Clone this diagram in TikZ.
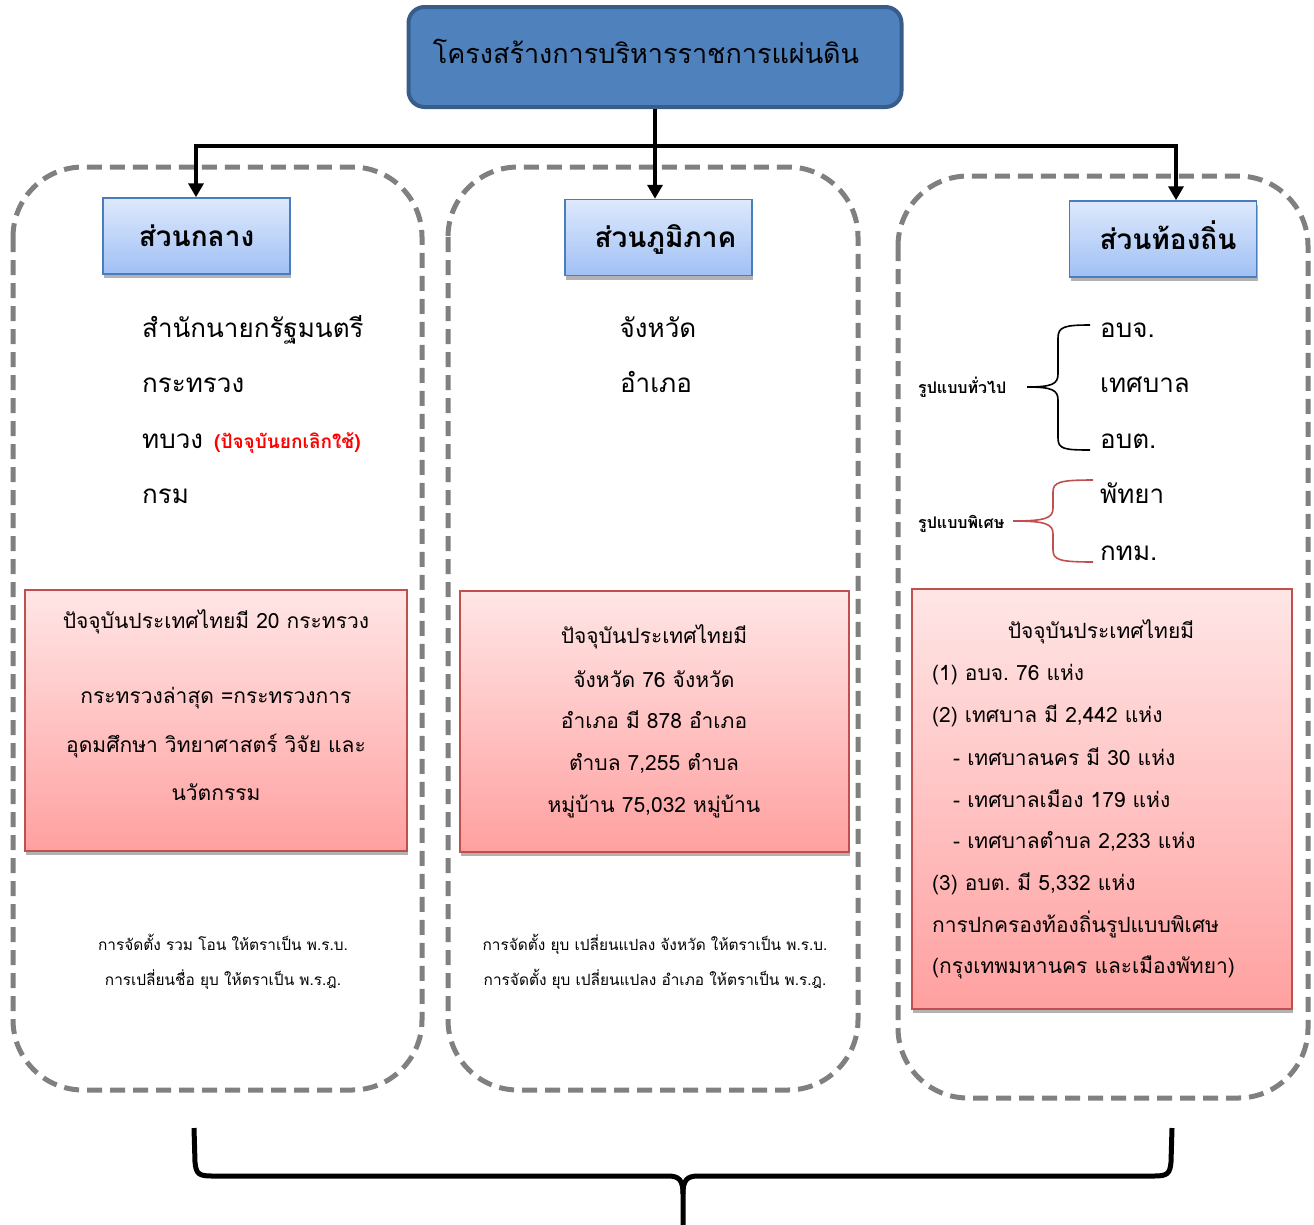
\documentclass[tikz,border=0pt]{standalone}
\usepackage{fontspec}
\setmainfont[Script=Thai]{Loma}
\usetikzlibrary{shadows,arrows.meta}
\definecolor{titleblue}{RGB}{79,129,189}
\definecolor{titleedge}{RGB}{56,93,138}
\definecolor{hdtop}{RGB}{222,233,252}
\definecolor{hdbot}{RGB}{160,192,245}
\definecolor{hdedge}{RGB}{74,126,187}
\definecolor{pktop}{RGB}{255,230,230}
\definecolor{pkbot}{RGB}{255,160,160}
\definecolor{pkedge}{RGB}{192,80,77}
\definecolor{dashgray}{RGB}{128,128,128}
\definecolor{bracered}{RGB}{192,80,77}
\newcommand{\fs}[1]{\fontsize{#1}{#1}\selectfont}
\frenchspacing
\begin{document}
\begin{tikzpicture}[x=1pt,y=-1pt,
  cont/.style={draw=dashgray,line width=5pt,dash pattern=on 15pt off 8pt,rounded corners=70pt},
  conn/.style={line width=4pt},
  tip/.style={-{Triangle[length=14pt,width=15pt]}},
  hdr/.style={draw=hdedge,line width=1.5pt,top color=hdtop,bottom color=hdbot,
    minimum width=187pt,minimum height=76pt,inner sep=0pt,text height=26pt,text depth=6pt,
    drop shadow={shadow xshift=1pt,shadow yshift=-4pt,opacity=0.3,fill=black},
    font=\fs{28}\bfseries},
  pink/.style={draw=pkedge,line width=1.5pt,top color=pktop,bottom color=pkbot,inner sep=0pt,
    drop shadow={shadow xshift=1pt,shadow yshift=-4pt,opacity=0.3,fill=black}},
  lst/.style={anchor=base west,inner sep=0pt,font=\fs{26}},
  lstc/.style={anchor=base,inner sep=0pt,font=\fs{26}},
  pt/.style={anchor=base,inner sep=0pt,font=\fs{21}},
  ptl/.style={anchor=base west,inner sep=0pt,font=\fs{21}},
  small/.style={anchor=base west,inner sep=0pt,font=\fs{16}\bfseries},
  foot/.style={anchor=base,inner sep=0pt,font=\fs{15.4}}]
\useasboundingbox (0,0) rectangle (1314,1224);
% dashed containers
\draw[cont] (13,167) rectangle (422,1090);
\draw[cont] (448,167) rectangle (858,1090);
\draw[cont] (898,176) rectangle (1308,1098);
% title
\node[draw=titleedge,line width=4pt,fill=titleblue,rounded corners=16pt,
  minimum width=493pt,minimum height=100pt,inner sep=0pt] (title) at (655,57) {};
\node[anchor=base,inner sep=0pt,font=\fs{27}] (titletext) at (646,63) {โครงสร้างการบริหารราชการแผ่นดิน};
% headers
\node[hdr] (h1) at (196.5,236) {ส่วนกลาง};
\node[hdr] (h2) at (658.5,237.5) {\hspace*{14pt}ส่วนภูมิภาค};
\node[hdr] (h3) at (1163,239) {\hspace*{10pt}ส่วนท้องถิ่น};
% connectors
\coordinate (a1) at (196,146);
\coordinate (a3) at (1176,146);
\draw[conn] (title.south) -- (title.south |- a1);
\draw[conn,line cap=rect] (a1) -- (a3);
\draw[conn,tip] (a1) -- (a1 |- h1.north);
\draw[conn,tip] (title.south |- a1) -- (title.south |- h2.north);
\draw[conn,tip] (a3) -- (a3 |- h3.north);
% left list
\node[lst] (l1) at (142,337) {สำนักนายกรัฐมนตรี};
\node[lst] (l2) at (142,392) {กระทรวง};
\node[lst] (l3) at (142,448) {ทบวง};
\node[anchor=base west,inner sep=0pt,font=\fs{19}\bfseries,text=red] (l3r) at (214,448) {(ปัจจุบันยกเลิกใช้)};
\node[lst] (l4) at (142,503) {กรม};
% middle list
\node[lstc] (m1) at (658,337) {จังหวัด};
\node[lstc] (m2) at (656,392) {อำเภอ};
% right list
\node[lst] (r1) at (1100,337) {อบจ.};
\node[lst] (r2) at (1100,392) {เทศบาล};
\node[lst] (r3) at (1100,448) {อบต.};
\node[lst] (r4) at (1100,503) {พัทยา};
\node[lst] (r5) at (1100,560) {กทม.};
\node[small] (g1) at (918,393) {รูปแบบทั่วไป};
\node[small] (g2) at (918,528) {รูปแบบพิเศษ};
\draw[line width=1.6pt] (1090,325) .. controls (1064,325) and (1058,327) .. (1058,338) -- (1058,374)
  .. controls (1058,384) and (1052,387) .. (1027,387)
  .. controls (1052,387) and (1058,390) .. (1058,400) -- (1058,438)
  .. controls (1058,449) and (1064,450) .. (1090,450);
\draw[line width=1.6pt,draw=bracered] (1093,480) .. controls (1060,480) and (1053,482) .. (1053,492) -- (1053,508)
  .. controls (1053,518) and (1046,521) .. (1013,521)
  .. controls (1046,521) and (1053,524) .. (1053,534) -- (1053,550)
  .. controls (1053,560) and (1060,562) .. (1093,562);
% pink boxes
\node[pink,minimum width=382pt,minimum height=261pt] (p1) at (216,720.5) {};
\node[pink,minimum width=389pt,minimum height=261pt] (p2) at (654.5,721.5) {};
\node[pink,minimum width=380pt,minimum height=420pt] (p3) at (1102,799) {};
\node[pt] (p1a) at (216,628) {ปัจจุบันประเทศไทยมี 20 กระทรวง};
\node[pt] (p1b) at (216,703) {กระทรวงล่าสุด =กระทรวงการ};
\node[pt] (p1c) at (216,752) {อุดมศึกษา วิทยาศาสตร์ วิจัย และ};
\node[pt] (p1d) at (216,800) {นวัตกรรม};
\node[pt] (p2a) at (654,643) {ปัจจุบันประเทศไทยมี};
\node[pt] (p2b) at (654,687) {จังหวัด 76 จังหวัด};
\node[pt] (p2c) at (654,728) {อำเภอ มี 878 อำเภอ};
\node[pt] (p2d) at (654,770) {ตำบล 7,255 ตำบล};
\node[pt] (p2e) at (654,812) {หมู่บ้าน 75,032 หมู่บ้าน};
\node[pt] (p3a) at (1101,638) {ปัจจุบันประเทศไทยมี};
\node[ptl] (p3b) at (932,680) {(1) อบจ. 76 แห่ง};
\node[ptl] (p3c) at (932,722) {(2) เทศบาล มี 2,442 แห่ง};
\node[ptl] (p3d) at (953,765) {- เทศบาลนคร มี 30 แห่ง};
\node[ptl] (p3e) at (953,807) {- เทศบาลเมือง 179 แห่ง};
\node[ptl] (p3f) at (953,848) {- เทศบาลตำบล 2,233 แห่ง};
\node[ptl] (p3g) at (932,890) {(3) อบต. มี 5,332 แห่ง};
\node[ptl] (p3h) at (932,932) {การปกครองท้องถิ่นรูปแบบพิเศษ};
\node[ptl] (p3i) at (932,973) {(กรุงเทพมหานคร และเมืองพัทยา)};
% footnotes
\node[foot] (f1) at (223,950) {การจัดตั้ง รวม โอน ให้ตราเป็น พ.ร.บ.};
\node[foot] (f2) at (223,985) {การเปลี่ยนชื่อ ยุบ ให้ตราเป็น พ.ร.ฎ.};
\node[foot] (f3) at (655,950) {การจัดตั้ง ยุบ เปลี่ยนแปลง จังหวัด ให้ตราเป็น พ.ร.บ.};
\node[foot] (f4) at (655,985) {การจัดตั้ง ยุบ เปลี่ยนแปลง อำเภอ ให้ตราเป็น พ.ร.ฎ.};
% bottom brace
\draw[line width=5pt] (194,1128) -- (195,1162) .. controls (196,1174) and (199,1176) .. (212,1176)
  -- (668,1176) .. controls (679,1176) and (683,1180) .. (683,1194) -- (683,1230);
\draw[line width=5pt] (1172,1128) -- (1171,1162) .. controls (1170,1174) and (1167,1176) .. (1154,1176)
  -- (698,1176) .. controls (687,1176) and (683,1180) .. (683,1194);
\end{tikzpicture}
\end{document}
